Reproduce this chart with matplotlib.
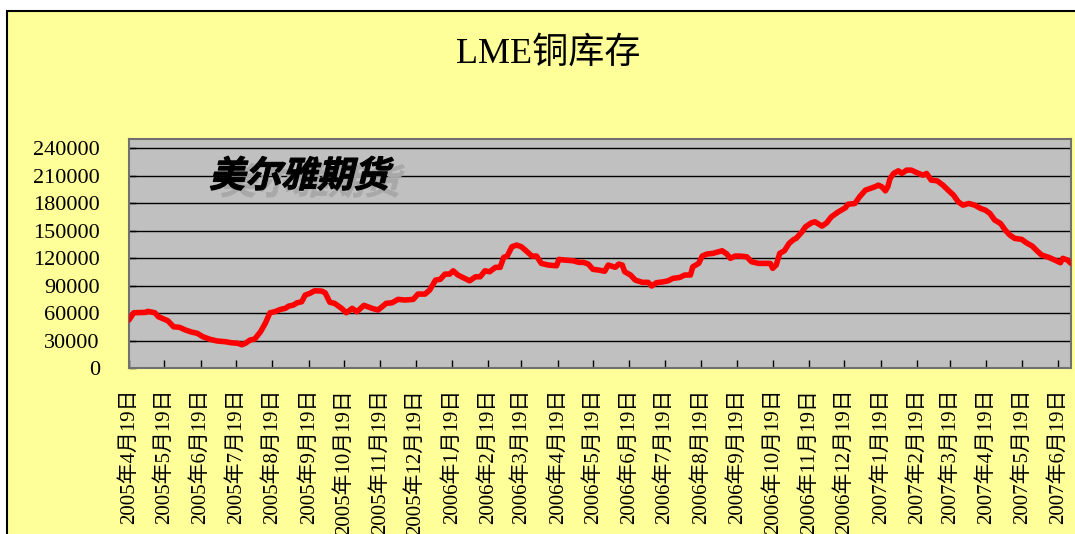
import pandas as pd
import matplotlib
matplotlib.use('Agg')
import matplotlib.pyplot as plt
import matplotlib.dates as mdates
from matplotlib.ticker import FuncFormatter
from matplotlib.textpath import TextPath
from matplotlib.patches import PathPatch, Rectangle
from matplotlib.font_manager import FontProperties
from matplotlib.transforms import Affine2D

plt.rcParams['font.family'] = ['Liberation Serif', 'Noto Sans CJK SC']

# data (days counted from start_date, stocks in tonnes)
start_date = '2005-04-19'
end_day = 802
days = [0, 4, 14, 16, 22, 25, 33, 38, 43, 48, 53, 58, 63, 69, 75, 82, 87, 93, 96, 99,
        103, 107, 112, 116, 120, 124, 129, 133, 136, 140, 143, 147, 150, 154, 158, 164,
        167, 171, 175, 181, 185, 190, 194, 200, 207, 212, 219, 224, 229, 235, 242, 246,
        252, 256, 261, 265, 269, 273, 276, 280, 286, 290, 295, 299, 303, 307, 312, 316,
        319, 322, 326, 330, 334, 339, 343, 347, 351, 357, 364, 366, 371, 378, 383, 387,
        391, 395, 400, 405, 408, 414, 417, 420, 422, 427, 431, 437, 442, 445, 449, 455,
        459, 463, 469, 473, 478, 480, 485, 488, 492, 497, 502, 505, 509, 512, 516, 520,
        526, 530, 536, 541, 546, 548, 551, 554, 558, 562, 566, 568, 573, 576, 581, 584,
        590, 594, 598, 604, 610, 612, 618, 622, 627, 631, 635, 638, 641, 644, 646, 648,
        651, 655, 658, 662, 666, 671, 676, 679, 683, 688, 693, 698, 702, 706, 710, 715,
        720, 725, 729, 733, 737, 742, 746, 750, 754, 760, 764, 769, 773, 777, 783, 787,
        793, 795, 799, 802]
stock = [52400, 60300, 60700, 61800, 60300, 56000, 51600, 45000, 44400, 41500, 39300,
         37900, 34100, 31300, 29500, 28700, 27600, 26900, 25400, 26900, 30500, 31600,
         39600, 48700, 60300, 61400, 64000, 65100, 67600, 68700, 71200, 72300, 79600,
         81500, 84300, 84000, 82100, 71700, 70600, 65100, 60300, 65100, 61400, 68400,
         65100, 63300, 70600, 71200, 74900, 74200, 74900, 80700, 80700, 85100, 96000,
         96800, 102500, 102500, 106100, 101500, 97800, 95200, 99600, 99600, 106100,
         105100, 109900, 109900, 120800, 122200, 132400, 134200, 132400, 126900, 122200,
         122200, 114200, 112400, 111600, 118600, 117800, 117100, 115300, 115300, 113500,
         107700, 106900, 105600, 112400, 109900, 113500, 112400, 105100, 101500, 96000,
         93500, 93500, 89500, 93100, 94100, 95200, 97800, 98900, 101500, 101500, 110500,
         114200, 122200, 124400, 125100, 126900, 128000, 124400, 119700, 122200, 122200,
         121400, 116000, 114200, 114200, 114200, 108800, 112400, 125100, 128000, 136000,
         140400, 141500, 148700, 154200, 158500, 159600, 154900, 158500, 165100, 170500,
         175000, 178700, 179600, 186900, 194200, 196000, 197800, 199600, 197800, 193400,
         197800, 206900, 212400, 215300, 212400, 216000, 216000, 213100, 210500, 212400,
         205100, 204400, 199600, 193400, 188700, 181400, 177800, 179600, 177800, 174200,
         172400, 168700, 161500, 157800, 150500, 145100, 141500, 140400, 136700, 133100,
         128000, 123300, 120800, 118600, 114900, 119700, 117800, 114200]
yticks = list(range(0, 240001, 30000))
title = 'LME铜库存'
watermark = '美尔雅期货'

dates = pd.Timestamp(start_date) + pd.to_timedelta(days, unit='D')

fig = plt.figure(figsize=(10.75, 5.34), dpi=100, facecolor='white')
fig.add_artist(Rectangle((7 / 1075, -0.05), 1.1, 1 - 11 / 534 + 0.05,
                         transform=fig.transFigure, facecolor='#FFFF99',
                         edgecolor='black', lw=1.5, zorder=-1))

ax = fig.add_axes([129 / 1075, 1 - 368 / 534, (1071 - 129) / 1075, (368 - 139) / 534])
ax.set_facecolor('#C0C0C0')
ax.plot(dates, stock, color='red', lw=4, solid_joinstyle='round',
        solid_capstyle='round', zorder=3)

ax.set_xlim(pd.Timestamp(start_date), pd.Timestamp(start_date) + pd.Timedelta(days=end_day))
ax.set_ylim(0, 250000)
ax.set_yticks(yticks)
ax.yaxis.grid(True, color='black', lw=1)
ax.set_axisbelow(True)


def date_label(v, pos):
    d = mdates.num2date(v)
    return f'{d.year}年{d.month}月{d.day}日'


ax.xaxis.set_major_locator(mdates.MonthLocator(bymonthday=19))
ax.xaxis.set_major_formatter(FuncFormatter(date_label))
ax.tick_params(axis='x', direction='in', length=6, width=1, labelrotation=90,
               pad=15, labelsize=15)
ax.tick_params(axis='y', direction='in', length=5, width=1, pad=21, labelsize=16)
for s in ax.spines.values():
    s.set_color('#707070')
    s.set_linewidth(1.5)

fig.text(548 / 1075, 1 - 54 / 534, title, ha='center', va='center', fontsize=26)

# italic bold watermark with a grey shadow
fp = FontProperties(family='Noto Sans CJK SC', weight='bold')
tp = TextPath((0, 0), watermark, size=36, prop=fp)
shadow = PathPatch(tp, transform=Affine2D().skew_deg(14, 0).translate(220, 340),
                   facecolor='#a8a8a8', edgecolor='#a8a8a8', lw=0.5, zorder=3)
front = PathPatch(tp, transform=Affine2D().skew_deg(14, 0).translate(209, 347),
                  facecolor='black', edgecolor='black', lw=0.8, zorder=4)
fig.add_artist(shadow)
fig.add_artist(front)

fig.savefig('out.png', dpi=100)
